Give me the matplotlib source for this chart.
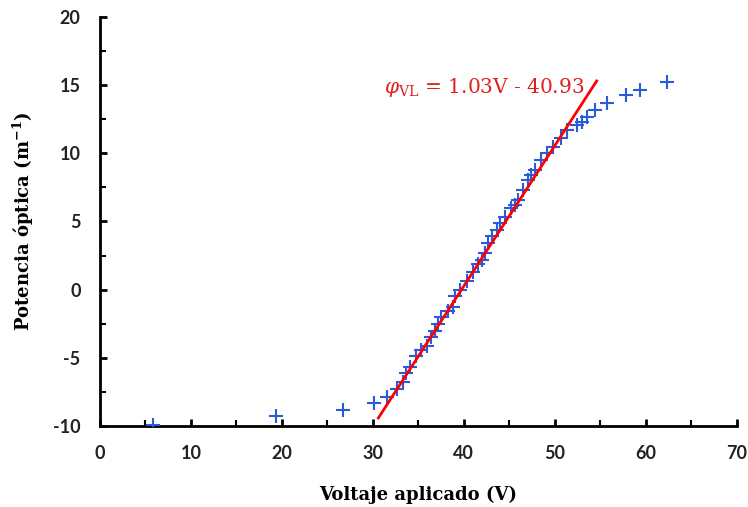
import matplotlib
matplotlib.use("Agg")
import matplotlib.pyplot as plt
import numpy as np
from matplotlib.ticker import MultipleLocator

plt.rcParams['axes.unicode_minus'] = False
plt.rcParams['mathtext.fontset'] = 'dejavuserif'

voltage = [5.8, 19.3, 26.7, 30.1, 31.6, 32.6, 33.3, 33.6, 34.1, 34.7, 35.3, 35.9,
           36.4, 36.8, 37.2, 37.5, 38.2, 38.8, 39.0, 39.6, 40.3, 41.0, 41.6, 42.0,
           42.3, 42.7, 43.1, 43.6, 44.0, 44.5, 45.2, 45.6, 46.0, 46.5, 47.1, 47.4,
           47.8, 48.5, 49.1, 49.8, 50.7, 51.3, 52.4, 53.0, 53.5, 54.4, 55.7, 57.8,
           59.4, 62.3]
power = [-9.9, -9.3, -8.8, -8.3, -7.85, -7.3, -6.8, -6.1, -5.65, -4.9, -4.4, -4.1,
         -3.45, -3.0, -2.5, -2.0, -1.6, -1.25, -0.5, 0.0, 0.6, 1.3, 1.9, 2.2,
         2.7, 3.4, 3.9, 4.4, 4.9, 5.35, 6.0, 6.2, 6.6, 7.3, 8.05, 8.4,
         8.8, 9.5, 10.0, 10.5, 11.1, 11.7, 12.1, 12.3, 12.7, 13.2, 13.7, 14.3,
         14.65, 15.2]

fit_slope = 1.03
fit_intercept = -40.93
fit_range = [30.6, 54.6]

fig = plt.figure(figsize=(7.48, 5.07), dpi=100)
ax = fig.add_axes([0.1337, 0.1598, 0.8513, 0.8067])

ax.plot(voltage, power, linestyle='none', marker='+', markersize=10,
        markeredgewidth=1.5, color='#2a5bdc', zorder=3)
fx = np.array(fit_range)
ax.plot(fx, fit_slope * fx + fit_intercept, color='#ff0000', lw=2.0, zorder=4)

ax.set_xlim(0, 70)
ax.set_ylim(-10, 20)
ax.xaxis.set_major_locator(MultipleLocator(10))
ax.xaxis.set_minor_locator(MultipleLocator(5))
ax.yaxis.set_major_locator(MultipleLocator(5))
ax.yaxis.set_minor_locator(MultipleLocator(2.5))

for s in ['top', 'right']:
    ax.spines[s].set_visible(False)
for s in ['left', 'bottom']:
    ax.spines[s].set_linewidth(2.0)
    ax.spines[s].set_color('black')

ax.tick_params(which='major', direction='in', length=5, width=2)
ax.tick_params(axis='x', which='major', pad=14)
ax.tick_params(axis='y', which='major', pad=14)
ax.tick_params(which='minor', direction='in', length=4, width=1.5)
for lab in ax.get_xticklabels() + ax.get_yticklabels():
    lab.set_fontfamily('Lato')
    lab.set_fontweight('bold')
    lab.set_fontsize(13)
    lab.set_color('#222222')

ax.set_xlabel('Voltaje aplicado (V)', fontfamily='DejaVu Serif', fontweight='bold',
              fontsize=13, labelpad=17)
ax.set_ylabel('Potencia óptica (m$^{\\mathbf{-1}}$)', fontfamily='DejaVu Serif',
              fontweight='bold', fontsize=13, labelpad=12)

ax.text(31.2, 14.4, r'$\varphi_{\mathrm{VL}}$' + ' = 1.03V - 40.93', color='#e0201b',
        fontfamily='DejaVu Serif', fontsize=14.5)

fig.savefig('out.png', dpi=100)
